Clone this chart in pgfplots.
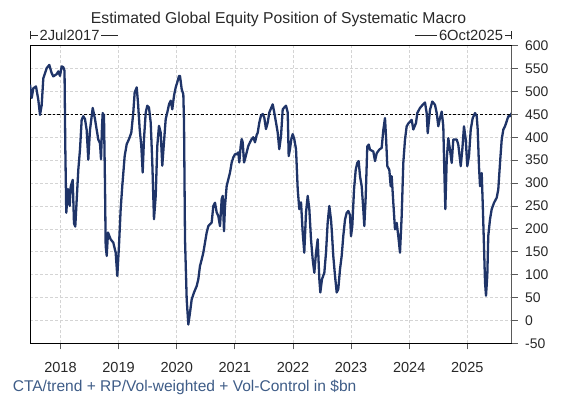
\documentclass[border=0pt]{standalone}
\usepackage{fontspec}
\setmainfont{Liberation Sans}
\usepackage{pgfplots}
\pgfplotsset{compat=1.18}
\definecolor{navy}{RGB}{31,52,104}
\definecolor{capblue}{RGB}{62,92,135}
\definecolor{gridgray}{RGB}{212,212,212}
\definecolor{txtgray}{RGB}{40,40,40}
\definecolor{axgray}{RGB}{90,90,90}
\pgfplotstableread{
x y
2017.476 515
2017.505 486
2017.533 507
2017.579 511
2017.619 482
2017.648 449
2017.677 470
2017.705 529
2017.763 551
2017.808 558
2017.849 540
2017.877 533
2017.935 538
2017.963 544
2017.992 534
2018.021 555
2018.049 553
2018.070 545
2018.083 381
2018.100 235
2018.130 287
2018.159 250
2018.176 292
2018.211 307
2018.233 212
2018.255 205
2018.307 329
2018.336 373
2018.365 438
2018.393 446
2018.422 440
2018.451 416
2018.479 351
2018.508 416
2018.555 464
2018.594 440
2018.624 416
2018.651 395
2018.680 387
2018.698 352
2018.715 424
2018.727 453
2018.749 447
2018.766 300
2018.778 163
2018.796 141
2018.818 192
2018.864 177
2018.909 170
2018.950 148
2018.978 97
2019.007 163
2019.036 243
2019.064 294
2019.105 359
2019.140 385
2019.179 396
2019.219 410
2019.253 454
2019.277 498
2019.312 509
2019.334 476
2019.363 418
2019.391 381
2019.415 323
2019.437 396
2019.467 454
2019.494 469
2019.523 465
2019.553 432
2019.580 345
2019.609 221
2019.639 272
2019.666 381
2019.695 425
2019.725 410
2019.752 338
2019.781 389
2019.811 440
2019.838 454
2019.868 472
2019.897 480
2019.924 461
2019.954 491
2019.983 509
2020.010 520
2020.040 534
2020.057 534
2020.086 505
2020.114 494
2020.126 432
2020.143 177
2020.172 46
2020.200 -9
2020.229 17
2020.258 46
2020.298 61
2020.344 75
2020.372 90
2020.401 119
2020.430 133
2020.458 148
2020.487 170
2020.516 192
2020.544 206
2020.602 214
2020.630 250
2020.659 257
2020.688 236
2020.716 228
2020.745 206
2020.774 265
2020.792 272
2020.814 195
2020.831 250
2020.860 294
2020.888 308
2020.917 323
2020.946 345
2020.974 356
2021.003 363
2021.032 363
2021.060 367
2021.077 345
2021.101 381
2021.118 396
2021.136 389
2021.158 345
2021.175 352
2021.204 367
2021.232 381
2021.261 389
2021.290 396
2021.318 400
2021.347 389
2021.376 405
2021.394 410
2021.421 432
2021.450 447
2021.480 451
2021.507 443
2021.536 418
2021.566 432
2021.593 454
2021.652 472
2021.679 454
2021.709 432
2021.738 410
2021.765 374
2021.795 403
2021.824 461
2021.851 465
2021.881 469
2021.910 454
2021.927 359
2021.949 374
2021.972 396
2021.996 407
2022.023 396
2022.053 374
2022.082 287
2022.109 243
2022.139 258
2022.168 192
2022.195 148
2022.225 236
2022.254 272
2022.282 243
2022.311 177
2022.340 133
2022.368 104
2022.397 148
2022.426 177
2022.454 90
2022.471 61
2022.500 90
2022.540 104
2022.569 148
2022.598 214
2022.626 250
2022.655 220
2022.667 199
2022.694 141
2022.724 97
2022.753 61
2022.780 68
2022.810 112
2022.839 141
2022.866 184
2022.896 220
2022.925 235
2022.953 239
2022.982 230
2022.999 184
2023.021 205
2023.051 286
2023.080 329
2023.107 344
2023.131 348
2023.154 315
2023.183 293
2023.211 242
2023.228 206
2023.252 270
2023.279 380
2023.304 384
2023.326 373
2023.383 369
2023.412 348
2023.441 365
2023.486 373
2023.527 377
2023.555 416
2023.584 442
2023.601 402
2023.624 337
2023.658 329
2023.682 293
2023.699 315
2023.727 257
2023.756 199
2023.785 213
2023.813 184
2023.842 148
2023.871 228
2023.899 344
2023.928 395
2023.957 424
2023.985 430
2024.043 438
2024.071 417
2024.117 431
2024.140 453
2024.186 464
2024.233 471
2024.272 476
2024.302 452
2024.319 409
2024.358 460
2024.398 478
2024.444 471
2024.474 453
2024.501 424
2024.530 442
2024.560 456
2024.587 424
2024.604 330
2024.622 243
2024.646 351
2024.673 398
2024.702 373
2024.732 344
2024.759 395
2024.818 395
2024.845 384
2024.887 337
2024.914 373
2024.943 424
2024.973 395
2025.000 337
2025.029 359
2025.059 417
2025.093 442
2025.133 453
2025.162 446
2025.179 417
2025.201 337
2025.219 293
2025.248 322
2025.265 257
2025.287 163
2025.305 83
2025.322 54
2025.344 98
2025.361 185
2025.391 221
2025.420 243
2025.460 257
2025.506 268
2025.533 286
2025.563 344
2025.592 395
2025.620 417
2025.649 424
2025.678 435
2025.706 446
2025.735 446
2025.764 453
}\series
\begin{document}
\begin{tikzpicture}[x=1bp,y=1bp]
\useasboundingbox (-30,-52.7) rectangle (532,343.3);
\begin{axis}[
  at={(0,0)}, anchor=south west,
  width=481.7bp, height=297.6bp, scale only axis,
  xmin=2017.476, xmax=2025.764,
  ymin=-50, ymax=600,
  xtick={2018,2019,2020,2021,2022,2023,2024,2025},
  xticklabels={2018,2019,2020,2021,2022,2023,2024,2025},
  ytick={-50,0,50,100,150,200,250,300,350,400,450,500,550,600},
  yticklabels={-50,0,50,100,150,200,250,300,350,400,450,500,550,600},
  xtick pos=lower, ytick pos=right,
  tick align=outside,
  major tick length=6bp,
  tick style={axgray, line width=0.8bp},
  yticklabel pos=right,
  yticklabel style={font=\fontsize{14}{14}\selectfont, text=txtgray, xshift=4bp},
  xticklabel style={font=\fontsize{14.6}{14.6}\selectfont, text=txtgray, anchor=base, yshift=-23.1bp},
  axis line style={black, line width=0.8bp},
  grid=major,
  major grid style={gridgray, line width=0.6bp, dash pattern=on 3bp off 2bp},
  clip=true,
]
\addplot[black, line width=0.8bp, dash pattern=on 2.5bp off 2bp, forget plot] coordinates {(2017.476,450) (2025.764,450)};
\addplot[navy, line width=2.3bp, line join=round] table[x=x,y=y] {\series};
\end{axis}
\draw[axgray, line width=1bp] (481.7,0) -- (481.7,297.6);
% title
\node[anchor=base west, inner sep=0pt, font=\fontsize{15.8}{15.8}\selectfont, text=txtgray] at (60.7,320) {Estimated Global Equity Position of Systematic Macro};
% date range labels
\begin{scope}[line width=0.7bp, txtgray]
\draw (0.4,304) -- (0.4,312.6);
\draw (0.4,308.3) -- (8,308.3);
\node[anchor=base west, inner sep=0pt, font=\fontsize{14.8}{14.8}\selectfont, text=txtgray] (L) at (9.3,303.3) {2Jul2017};
\draw ([xshift=1.5bp]L.base east |- 0,308.3) -- (88,308.3);
\draw (481.3,304) -- (481.3,312.6);
\draw (481.3,308.3) -- (474.5,308.3);
\node[anchor=base east, inner sep=0pt, font=\fontsize{14.8}{14.8}\selectfont, text=txtgray] (R) at (473.3,303.3) {6Oct2025};
\draw ([xshift=-1.5bp]R.base west |- 0,308.3) -- (385,308.3);
\end{scope}
% caption
\node[anchor=base west, inner sep=0pt, font=\fontsize{15.6}{15.6}\selectfont, text=capblue] at (-17.4,-48.6) {CTA/trend + RP/Vol-weighted + Vol-Control in \$bn};
\end{tikzpicture}
\end{document}
